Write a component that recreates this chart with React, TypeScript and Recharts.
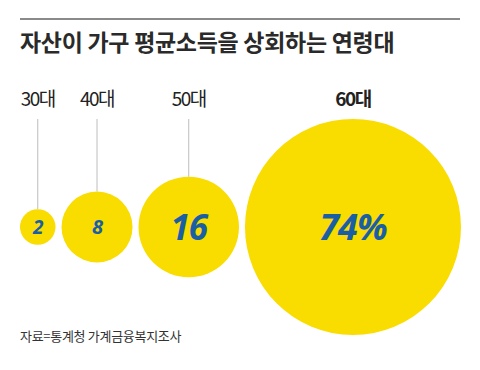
import { ScatterChart, Scatter, XAxis, YAxis, ZAxis } from 'recharts';

const ageGroups = ['30대', '40대', '50대', '60대'];
const shares = [2, 8, 16, 74];
const valueLabels = ['2', '8', '16', '74%'];

// font size of the number inside each bubble
const valueFontSizes = [19, 20, 35, 36];

const W = 480;
const H = 370;
const MAX_R = 108; // radius of the biggest bubble
const GAP = 6;
const LEFT = 20;
const ROW_Y = 227;

// bubble area proportional to share: lay them side by side from the left
const radiusOf = (v: number) => MAX_R * Math.sqrt(v / Math.max(...shares));
const bubbles = (() => {
  let cursor = LEFT;
  return shares.map((v, i) => {
    const r = radiusOf(v);
    const x = cursor + r;
    cursor += 2 * r + GAP;
    return { age: ageGroups[i], value: v, label: valueLabels[i], idx: i, x, y: ROW_Y };
  });
})();

const minV = Math.min(...shares);
const maxV = Math.max(...shares);
const areaPerUnit = (Math.PI * MAX_R * MAX_R) / maxV;

const Bubble = (props: any) => {
  const { cx, cy, payload } = props;
  const r = props.width ? props.width / 2 : Math.sqrt((props.size || 0) / Math.PI);
  const last = payload.idx === shares.length - 1;
  return (
    <g>
      <text
        x={cx}
        y={106}
        textAnchor="middle"
        fontSize={19}
        letterSpacing={-1.5}
        fontWeight={last ? 700 : 400}
        fill="#222"
        fontFamily="'Noto Sans CJK KR', 'Noto Sans', sans-serif"
      >
        {payload.age}
      </text>
      {!last && <line x1={cx} x2={cx} y1={119} y2={cy - r} stroke="#bdbdbd" strokeWidth={1} />}
      <circle cx={cx} cy={cy} r={r} fill="#f9dc00" />
      <text
        x={cx}
        y={cy}
        dy="0.36em"
        textAnchor="middle"
        fontSize={valueFontSizes[payload.idx]}
        fontWeight={700}
        fontStyle="italic"
        letterSpacing={-1}
        fill="#1a5fa3"
        fontFamily="'Noto Sans', sans-serif"
      >
        {payload.label}
      </text>
    </g>
  );
};

const App = () => {
  return (
    <div style={{ position: 'relative', width: W, height: H, margin: -8, background: '#fff' }}>
      <div style={{ position: 'absolute', left: 20, top: 18, width: 440, height: 2, background: '#8a8a8a' }} />
      <div
        style={{
          position: 'absolute',
          left: 20,
          top: 25,
          fontSize: 23,
          fontWeight: 700,
          letterSpacing: -0.3,
          color: '#2a2a2a',
          fontFamily: "'Noto Sans CJK KR', sans-serif",
          lineHeight: '32px',
          whiteSpace: 'nowrap',
        }}
      >
        자산이 가구 평균소득을 상회하는 연령대
      </div>
      <ScatterChart width={W} height={H} margin={{ top: 0, right: 0, bottom: 0, left: 0 }}>
        <XAxis type="number" dataKey="x" domain={[0, W]} hide />
        <YAxis type="number" dataKey="y" domain={[0, H]} reversed hide />
        <ZAxis type="number" dataKey="value" domain={[minV, maxV]} range={[minV * areaPerUnit, maxV * areaPerUnit]} />
        <Scatter data={bubbles} shape={<Bubble />} isAnimationActive={false} />
      </ScatterChart>
      <div
        style={{
          position: 'absolute',
          left: 20,
          top: 327,
          fontSize: 13,
          letterSpacing: -0.3,
          color: '#333',
          fontFamily: "'Noto Sans CJK KR', sans-serif",
          lineHeight: '18px',
          whiteSpace: 'nowrap',
        }}
      >
        자료=통계청 가계금융복지조사
      </div>
    </div>
  );
};

export default App;
